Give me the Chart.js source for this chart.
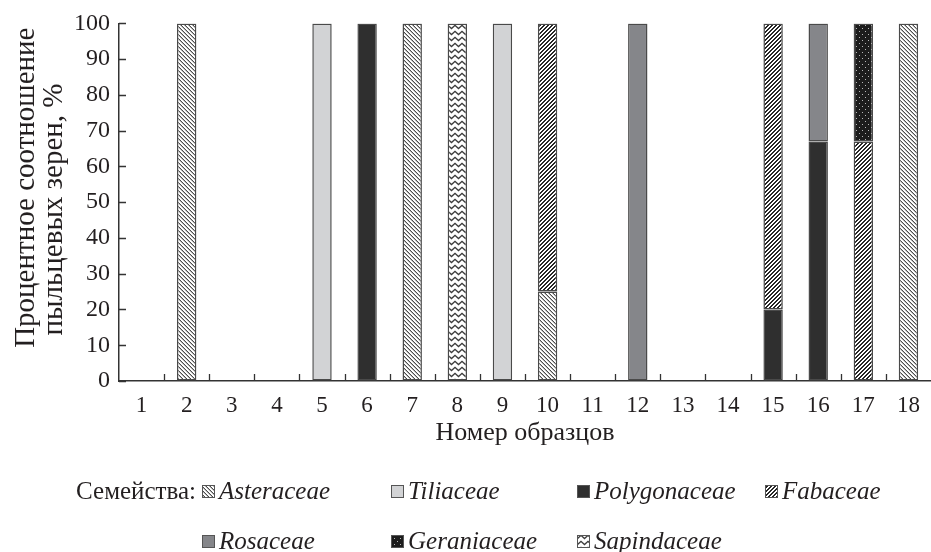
<!DOCTYPE html>
<html lang="ru">
<head>
<meta charset="UTF-8">
<title>Процентное соотношение пыльцевых зерен</title>
<script src="https://cdn.jsdelivr.net/npm/chart.js"></script>
<style>
body {
  margin: 0;
  background: #fff;
}
#wrap {
  width: 931px;
  height: 552px;
}
</style>
</head>
<body>

<div id="wrap">
  <canvas id="pollenChart" width="931" height="552"></canvas>
</div>

<script>
// Номера образцов и доли семейств (%)
const samples = ['1', '2', '3', '4', '5', '6', '7', '8', '9', '10', '11', '12', '13', '14', '15', '16', '17', '18'];
const asteraceae   = [0, 100, 0, 0, 0, 0, 100, 0, 0, 25, 0, 0, 0, 0, 0, 0, 0, 100];
const tiliaceae    = [0, 0, 0, 0, 100, 0, 0, 0, 100, 0, 0, 0, 0, 0, 0, 0, 0, 0];
const polygonaceae = [0, 0, 0, 0, 0, 100, 0, 0, 0, 0, 0, 0, 0, 0, 20, 67, 0, 0];
const fabaceae     = [0, 0, 0, 0, 0, 0, 0, 0, 0, 75, 0, 0, 0, 0, 80, 0, 67, 0];
const rosaceae     = [0, 0, 0, 0, 0, 0, 0, 0, 0, 0, 0, 100, 0, 0, 0, 33, 0, 0];
const geraniaceae  = [0, 0, 0, 0, 0, 0, 0, 0, 0, 0, 0, 0, 0, 0, 0, 0, 33, 0];
const sapindaceae  = [0, 0, 0, 0, 0, 0, 0, 100, 0, 0, 0, 0, 0, 0, 0, 0, 0, 0];
const familyNames = ['Asteraceae', 'Tiliaceae', 'Polygonaceae', 'Fabaceae', 'Rosaceae', 'Geraniaceae', 'Sapindaceae'];
const yTickValues = [0, 10, 20, 30, 40, 50, 60, 70, 80, 90, 100];

const SERIF = "'Liberation Serif', 'Times New Roman', serif";
const INK = '#231f20';
const NB = '\u00a0';

const canvas = document.getElementById('pollenChart');
const ctx = canvas.getContext('2d');

// маленькие плитки для штриховок
function tile(w, h, draw) {
  const c = document.createElement('canvas');
  c.width = w;
  c.height = h;
  const g = c.getContext('2d');
  draw(g, w, h);
  return ctx.createPattern(c, 'repeat');
}

const hatchBack = tile(4, 4, (g) => {
  g.fillStyle = '#fff';
  g.fillRect(0, 0, 4, 4);
  for (let x = 0; x < 4; x++) {
    g.fillStyle = '#4d4d4d';
    g.fillRect(x, x, 1, 1);
    g.fillStyle = '#b5b5b5';
    g.fillRect(x, (x + 1) % 4, 1, 1);
  }
});

const hatchForward = tile(4, 4, (g) => {
  g.fillStyle = '#fff';
  g.fillRect(0, 0, 4, 4);
  g.fillStyle = '#262626';
  for (let x = 0; x < 4; x++) {
    for (let y = 0; y < 4; y++) {
      if ((x + y) % 4 < 2) g.fillRect(x, y, 1, 1);
    }
  }
});

const zigzag = tile(7, 6, (g) => {
  g.fillStyle = '#fff';
  g.fillRect(0, 0, 7, 6);
  g.strokeStyle = '#3d3d3d';
  g.lineWidth = 1.4;
  g.beginPath();
  g.moveTo(-0.5, 1);
  g.lineTo(3.5, 4.5);
  g.lineTo(7.5, 1);
  g.stroke();
});

const dots = tile(6, 6, (g) => {
  g.fillStyle = '#1c1c1c';
  g.fillRect(0, 0, 6, 6);
  g.fillStyle = '#b8b8b8';
  g.fillRect(1, 1, 1, 1);
  g.fillRect(4, 4, 1, 1);
});

const seriesValues = [asteraceae, tiliaceae, polygonaceae, fabaceae, rosaceae, geraniaceae, sapindaceae];
const fills = [hatchBack, '#d2d3d5', '#2f2f2f', hatchForward, '#85868a', dots, zigzag];

const datasets = familyNames.map((name, i) => ({
  label: name,
  data: seriesValues[i],
  backgroundColor: fills[i],
  borderColor: '#4a4a4a',
  borderWidth: (c) => c.raw ? 1.5 : 0,
  borderSkipped: false,
  barPercentage: 0.43,
  categoryPercentage: 1
}));

// засечки внутрь области графика
const innerTicks = {
  id: 'innerTicks',
  afterDraw(chart) {
    const g = chart.ctx;
    const xs = chart.scales.x;
    const ys = chart.scales.y;
    g.save();
    g.strokeStyle = '#333';
    g.lineWidth = 1.3;
    g.beginPath();
    yTickValues.forEach(v => {
      const y = Math.round(ys.getPixelForValue(v)) + 0.5;
      g.moveTo(xs.left, y);
      g.lineTo(xs.left + 7, y);
    });
    for (let i = 0; i < samples.length - 1; i++) {
      const x = Math.round((xs.getPixelForValue(i) + xs.getPixelForValue(i + 1)) / 2) + 0.5;
      g.moveTo(x, ys.bottom);
      g.lineTo(x, ys.bottom - 7);
    }
    g.stroke();
    g.restore();
  }
};

// легенда в две строки
const familyLegend = {
  id: 'familyLegend',
  afterDraw(chart) {
    const g = chart.ctx;
    const spots = [[202, 492], [391, 492], [577, 492], [765, 492], [202, 542], [391, 542], [577, 542]];
    g.save();
    g.fillStyle = INK;
    g.textBaseline = 'middle';
    g.font = '25px ' + SERIF;
    g.textAlign = 'right';
    g.fillText('Семейства:', 196, 492);
    g.textAlign = 'left';
    chart.data.datasets.forEach((ds, i) => {
      const [x, y] = spots[i];
      g.fillStyle = ds.backgroundColor;
      g.fillRect(x, y - 7, 13, 13);
      g.strokeStyle = '#555';
      g.lineWidth = 1;
      g.strokeRect(x + 0.5, y - 6.5, 12, 12);
      g.fillStyle = INK;
      g.font = 'italic 25px ' + SERIF;
      g.fillText(ds.label, x + 17, y);
    });
    g.restore();
  }
};

new Chart(ctx, {
  type: 'bar',
  data: {
    labels: samples,
    datasets: datasets
  },
  options: {
    responsive: false,
    animation: false,
    layout: {
      padding: { top: 12, right: 0, bottom: 97, left: 0 }
    },
    plugins: {
      legend: { display: false },
      tooltip: { enabled: false }
    },
    scales: {
      x: {
        stacked: true,
        grid: { display: true, drawOnChartArea: false, drawTicks: false },
        border: { display: true, color: '#333', width: 1.5 },
        ticks: {
          color: INK,
          padding: 11,
          maxRotation: 0,
          font: { family: SERIF, size: 23 }
        },
        title: {
          display: true,
          text: 'Номер образцов',
          color: INK,
          padding: { top: 0, bottom: 6 },
          font: { family: SERIF, size: 26, lineHeight: 1.2 }
        },
        afterFit(scale) {
          scale.height = 74;
        }
      },
      y: {
        stacked: true,
        min: 0,
        max: 100,
        grid: { display: true, drawOnChartArea: false, drawTicks: false },
        border: { display: true, color: '#333', width: 1.5 },
        ticks: {
          stepSize: 10,
          color: INK,
          padding: 9,
          font: { family: SERIF, size: 24 }
        },
        title: {
          display: true,
          text: [NB.repeat(4) + 'Процентное соотношение', 'пыльцевых зерен, %' + NB.repeat(2)],
          color: INK,
          padding: { top: 12, bottom: 0 },
          font: { family: SERIF, size: 29, lineHeight: 0.97 }
        },
        afterFit(scale) {
          scale.width = 119;
        }
      }
    }
  },
  plugins: [innerTicks, familyLegend]
});
</script>

</body>
</html>
